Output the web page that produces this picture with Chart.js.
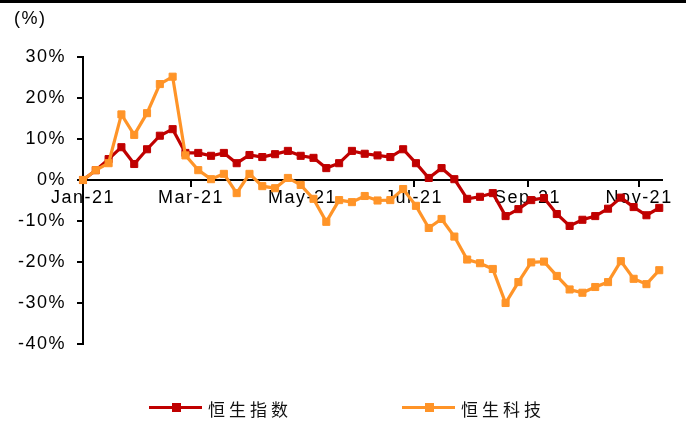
<!DOCTYPE html>
<html>
<head>
<meta charset="utf-8">
<script src="https://cdn.jsdelivr.net/npm/chart.js@4/dist/chart.umd.min.js"></script>
<style>
  html, body { margin: 0; padding: 0; background: #fff; }
  #wrap { position: relative; width: 686px; height: 421px; overflow: hidden; }
  #topbar { position: absolute; left: 0; top: 0; width: 686px; height: 3px; background: #000; }
  #unit { position: absolute; left: 14px; top: 8px; font: 18px "Liberation Sans", Arial, sans-serif; letter-spacing: 1.5px; color: #000; }
  #chart { position: absolute; left: 0; top: 0; }
  .leg { position: absolute; top: 396px; height: 24px; }
  .leg .ln { position: absolute; top: 10px; width: 53px; height: 3px; }
  .leg .mk { position: absolute; top: 7px; left: 23px; width: 9px; height: 9px; }
  .leg .tx { position: absolute; left: 59px; top: 0; font: 17px "Noto Sans CJK SC", sans-serif; letter-spacing: 4px; white-space: nowrap; color: #111; }
</style>
</head>
<body>
<div id="wrap">
  <canvas id="chart" width="686" height="421"></canvas>
  <div id="topbar"></div>
  <div id="unit">(%)</div>
  <div class="leg" id="leg1" style="left:149px"><div class="ln"></div><div class="mk"></div><div class="tx"></div></div>
  <div class="leg" id="leg2" style="left:402px"><div class="ln"></div><div class="mk"></div><div class="tx"></div></div>
</div>
<script>
// weekly closes, return since start of 2021 (%)
var dates = [
  "2021-01-01", "2021-01-08", "2021-01-15", "2021-01-22", "2021-01-29",
  "2021-02-05", "2021-02-12", "2021-02-19", "2021-02-26",
  "2021-03-05", "2021-03-12", "2021-03-19", "2021-03-26",
  "2021-04-02", "2021-04-09", "2021-04-16", "2021-04-23", "2021-04-30",
  "2021-05-07", "2021-05-14", "2021-05-21", "2021-05-28",
  "2021-06-04", "2021-06-11", "2021-06-18", "2021-06-25",
  "2021-07-02", "2021-07-09", "2021-07-16", "2021-07-23", "2021-07-30",
  "2021-08-06", "2021-08-13", "2021-08-20", "2021-08-27",
  "2021-09-03", "2021-09-10", "2021-09-17", "2021-09-24",
  "2021-10-01", "2021-10-08", "2021-10-15", "2021-10-22", "2021-10-29",
  "2021-11-05", "2021-11-12"
];
var hsi = [
  0, 2.4, 5.1, 8.0, 3.9, 7.5, 10.8, 12.4, 6.6,
  6.6, 5.9, 6.6, 4.1, 6.1, 5.6, 6.3, 7.1, 5.9,
  5.4, 2.9, 4.1, 7.1, 6.4, 6.0, 5.6, 7.5,
  4.1, 0.5, 2.9, 0.2, -4.6, -4.1, -3.2, -8.8, -7.1,
  -4.9, -4.4, -8.3, -11.2, -9.7, -8.8, -7.0, -4.3, -6.6,
  -8.6, -6.8
];
var hstech = [
  0, 2.4, 4.1, 16.0, 11.0, 16.3, 23.4, 25.2, 6.0,
  2.4, 0.2, 1.5, -3.2, 1.5, -1.5, -2.0, 0.5, -1.2,
  -4.6, -10.2, -4.9, -5.4, -3.9, -5.0, -4.9, -2.2,
  -6.3, -11.7, -9.5, -13.8, -19.4, -20.3, -21.7, -30.0, -24.9,
  -20.1, -19.9, -23.4, -26.7, -27.5, -26.1, -24.9, -19.8, -24.1,
  -25.4, -22.0
];
var tickDates = ["2021-01-01", "2021-03-01", "2021-05-01", "2021-07-01", "2021-09-01", "2021-11-01"];
var tickLabels = ["Jan-21", "Mar-21", "May-21", "Jul-21", "Sep-21", "Nov-21"];
var seriesNames = ["恒生指数", "恒生科技"];
var seriesColors = ["#C00000", "#FF9428"];

var start = Date.parse(dates[0]);
function dayOf(d) { return Math.round((Date.parse(d) - start) / 86400000); }
var tickDays = tickDates.map(dayOf);

function toPoints(vals) {
  return vals.map(function (v, i) { return { x: dayOf(dates[i]), y: v }; });
}

// legend (html)
[["leg1", 0], ["leg2", 1]].forEach(function (p) {
  var el = document.getElementById(p[0]);
  el.querySelector(".ln").style.background = seriesColors[p[1]];
  el.querySelector(".mk").style.background = seriesColors[p[1]];
  el.querySelector(".tx").textContent = seriesNames[p[1]];
});

var font = { family: "'Liberation Sans', Arial, sans-serif", size: 18 };

var widenText = {
  id: "widenText",
  beforeDraw: function (chart) { chart.ctx.letterSpacing = "1.5px"; }
};

var ctx = document.getElementById("chart");
new Chart(ctx.getContext("2d"), {
  type: "line",
  data: {
    datasets: [
      {
        label: seriesNames[0],
        data: toPoints(hsi),
        borderColor: seriesColors[0],
        backgroundColor: seriesColors[0],
        borderWidth: 3.2,
        pointStyle: "rect",
        pointRadius: 5,
        pointBorderWidth: 1,
        tension: 0,
        clip: false,
        order: 2
      },
      {
        label: seriesNames[1],
        data: toPoints(hstech),
        borderColor: seriesColors[1],
        backgroundColor: seriesColors[1],
        borderWidth: 3.2,
        pointStyle: "rect",
        pointRadius: 5,
        pointBorderWidth: 1,
        tension: 0,
        clip: false,
        order: 1
      }
    ]
  },
  options: {
    responsive: false,
    animation: false,
    events: [],
    layout: { padding: { left: 0, right: 24, top: 57, bottom: 77 } },
    plugins: { legend: { display: false }, tooltip: { enabled: false } },
    scales: {
      x: {
        type: "linear",
        position: { y: 0 },
        min: 0,
        max: 316.5,
        afterBuildTicks: function (scale) {
          scale.ticks = tickDays.map(function (d) { return { value: d }; });
        },
        ticks: {
          autoSkip: false,
          maxRotation: 0,
          padding: 1,
          color: "#000",
          font: font,
          callback: function (v) {
            var i = tickDays.indexOf(v);
            return i >= 0 ? tickLabels[i] : "";
          }
        },
        grid: { drawOnChartArea: false, drawTicks: true, tickLength: 6, color: "#000", lineWidth: 2 },
        border: { display: true, color: "#000", width: 2 }
      },
      y: {
        min: -40,
        max: 30,
        afterFit: function (scale) { scale.width = 83; },
        ticks: {
          stepSize: 10,
          padding: 11,
          color: "#000",
          font: font,
          callback: function (v) { return v + "%"; }
        },
        grid: { drawOnChartArea: false, drawTicks: true, tickLength: 6, color: "#000", lineWidth: 2 },
        border: { display: true, color: "#000", width: 2 }
      }
    }
  },
  plugins: [widenText]
});
</script>
</body>
</html>
